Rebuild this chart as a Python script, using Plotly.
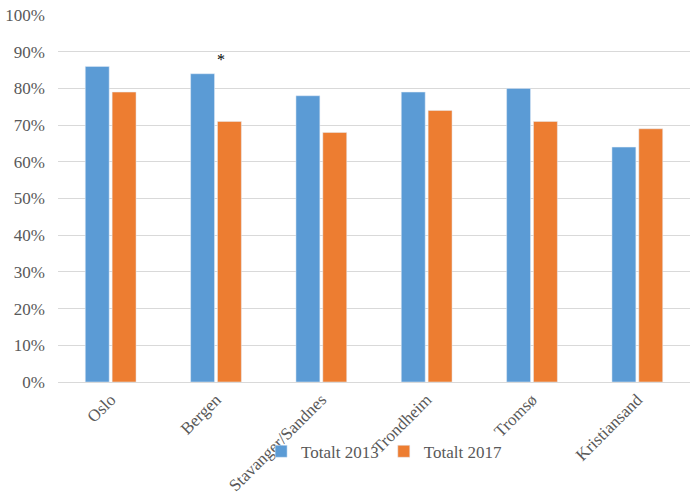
import plotly.graph_objects as go

categories = ["Oslo", "Bergen", "Stavanger/Sandnes", "Trondheim", "Tromsø", "Kristiansand"]
totalt_2013 = [0.86, 0.84, 0.78, 0.79, 0.80, 0.64]
totalt_2017 = [0.79, 0.71, 0.68, 0.74, 0.71, 0.69]
y_ticks = [0, 0.1, 0.2, 0.3, 0.4, 0.5, 0.6, 0.7, 0.8, 0.9, 1.0]

font_family = "Nimbus Roman"
text_color = "#595959"

fig = go.Figure()
fig.add_trace(go.Bar(x=categories, y=totalt_2013, name="Totalt 2013",
                     marker=dict(color="#5B9BD5")))
fig.add_trace(go.Bar(x=categories, y=totalt_2017, name="Totalt 2017",
                     marker=dict(color="#ED7D31")))

fig.add_annotation(x="Bergen", y=0.88, text="*", showarrow=False,
                   xshift=5, font=dict(family=font_family, size=16, color="#000000"))

fig.update_layout(
    width=700, height=500,
    margin=dict(l=58, r=10, t=15, b=118, autoexpand=False),
    paper_bgcolor="white", plot_bgcolor="white",
    barmode="group", bargap=0.49, bargroupgap=0.11,
    font=dict(family=font_family, size=17, color=text_color),
    showlegend=True,
    legend=dict(orientation="h", x=0.516, xanchor="center", y=-0.19, yanchor="middle",
                bgcolor="rgba(0,0,0,0)",
                font=dict(family=font_family, size=17, color=text_color),
                itemwidth=30, tracegroupgap=0),
    xaxis=dict(tickangle=-45, showgrid=False, showline=True, linecolor="#D9D9D9",
               linewidth=1, ticks="", automargin=False,
               tickfont=dict(family=font_family, size=17, color=text_color)),
    yaxis=dict(range=[0, 1.0], tickvals=y_ticks, tickformat=".0%", showgrid=True,
               gridcolor="#D9D9D9", gridwidth=1, zeroline=False, showline=False, ticks="",
               ticklabelstandoff=12, automargin=False,
               tickfont=dict(family=font_family, size=17, color=text_color)),
)

fig.write_html("out.html", config={"displayModeBar": False},
               post_script="document.body.style.margin='0';")
